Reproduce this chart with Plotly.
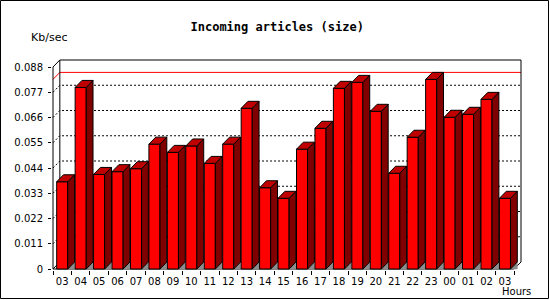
import plotly.graph_objects as go

# ---------------- data ----------------
hours = ["03", "04", "05", "06", "07", "08", "09", "10", "11", "12", "13", "14", "15",
         "16", "17", "18", "19", "20", "21", "22", "23", "00", "01", "02", "03"]
values = [0.0380, 0.0791, 0.0412, 0.0424, 0.0437, 0.0544, 0.0508, 0.0536, 0.0460, 0.0544,
          0.0700, 0.0354, 0.0308, 0.0522, 0.0613, 0.0787, 0.0813, 0.0687, 0.0417, 0.0574,
          0.0826, 0.0661, 0.0674, 0.0739, 0.0308]
ytick_vals = [0, 0.011, 0.022, 0.033, 0.044, 0.055, 0.066, 0.077, 0.088]
ytick_text = ["0", "0.011", "0.022", "0.033", "0.044", "0.055", "0.066", "0.077", "0.088"]
title = "Incoming articles (size)"
y_title = "Kb/sec"
x_title = "Hours"

# ---------------- geometry (3D look) ----------------
W, H = 550, 300
ML, MR, MT, MB = 52, 28, 59, 30
n = len(values)
ymax = ytick_vals[-1]
dx = 0.37            # depth offset in category units
px_per_unit_y = 202 / ymax
dy = 7 / px_per_unit_y
px_per_cat = (W - ML - MR) / (n + dx + 0.108)
padx = 1 / px_per_cat
pady = 1 / px_per_unit_y
bw = 0.6

xr = [-0.5 - padx, n - 0.5 + dx + padx]
yr = [-pady, ymax + dy + pady]

FRONT = "#ff0000"
TOP = "#c00000"
SIDE = "#800000"
SHADOW = "#8c8c8c"

fig = go.Figure()

# back-plane gridlines (dotted) with the short diagonal to the front axis
gx, gy = [], []
for v in ytick_vals[1:-1]:
    gx += [-0.5, -0.5 + dx, n - 0.5 + dx, None]
    gy += [v, v + dy, v + dy, None]
fig.add_trace(go.Scatter(x=gx, y=gy, mode="lines", hoverinfo="skip",
                         line=dict(color="black", width=1, dash="2px,2px")))

# max line (red)
vmax = max(values)
fig.add_trace(go.Scatter(x=[-0.5, -0.5 + dx, n - 0.5 + dx], y=[vmax, vmax + dy, vmax + dy],
                         mode="lines", hoverinfo="skip", line=dict(color="red", width=1)))

# frame: front y axis, back plane, floor
fx = [-0.5, -0.5, -0.5 + dx, n - 0.5 + dx, n - 0.5 + dx, n - 0.5, -0.5, None,
      -0.5 + dx, -0.5 + dx, None, -0.5, -0.5 + dx]
fy = [0, ymax, ymax + dy, ymax + dy, dy, 0, 0, None,
      ymax + dy, dy, None, 0, dy]
fig.add_trace(go.Scatter(x=fx, y=fy, mode="lines", hoverinfo="skip",
                         line=dict(color="black", width=1)))

# bars
for i, v in enumerate(values):
    l, r = i - bw / 2, i + bw / 2
    # floor shadow triangle
    fig.add_trace(go.Scatter(x=[r, r + dx, r + dx, r], y=[0, dy, 0, 0], mode="lines",
                             fill="toself", fillcolor=SHADOW, hoverinfo="skip",
                             line=dict(color=SHADOW, width=0.5)))
    # front face
    fig.add_trace(go.Scatter(x=[l, l, r, r, l], y=[0, v, v, 0, 0], mode="lines",
                             fill="toself", fillcolor=FRONT, name=hours[i],
                             hovertemplate=f"{hours[i]}: %{{customdata}}<extra></extra>",
                             customdata=[v] * 5,
                             line=dict(color="black", width=1)))
    # side face
    fig.add_trace(go.Scatter(x=[r, r, r + dx, r + dx, r], y=[0, v, v + dy, dy, 0], mode="lines",
                             fill="toself", fillcolor=SIDE, hoverinfo="skip",
                             line=dict(color="black", width=1)))
    # top face
    fig.add_trace(go.Scatter(x=[l, l + dx, r + dx, r, l], y=[v, v + dy, v + dy, v, v], mode="lines",
                             fill="toself", fillcolor=TOP, hoverinfo="skip",
                             line=dict(color="black", width=1)))

tickfont = dict(family="DejaVu Sans", size=10, color="black")

fig.update_layout(
    width=W, height=H,
    margin=dict(l=ML, r=MR, t=MT, b=MB),
    paper_bgcolor="white", plot_bgcolor="white",
    showlegend=False,
    title=dict(text=f"<b>{title}</b>", x=0.504, xanchor="center", y=1 - 27 / H, yanchor="middle",
               font=dict(family="DejaVu Sans Mono", size=12, color="black")),
    xaxis=dict(range=xr, showgrid=False, zeroline=False, showline=False,
               tickmode="array", tickvals=list(range(n)), ticktext=hours,
               ticks="", tickfont=tickfont, ticklabelstandoff=4,
               minor=dict(ticks="outside", ticklen=4, tickcolor="black", tickwidth=1,
                          tick0=-0.5, dtick=1, showgrid=False)),
    yaxis=dict(range=yr, showgrid=False, zeroline=False, showline=False,
               tickmode="array", tickvals=ytick_vals, ticktext=ytick_text,
               ticks="outside", ticklen=3, tickcolor="black", tickfont=tickfont,
               ticklabelstandoff=3),
    annotations=[
        dict(text=y_title, xref="paper", yref="paper", x=(29 - ML) / (W - ML - MR),
             y=(H - MB - 37) / (H - MT - MB), xanchor="left", yanchor="middle",
             showarrow=False, font=dict(family="DejaVu Sans", size=11, color="black")),
        dict(text=x_title, xref="paper", yref="paper", x=(533 - ML) / (W - ML - MR),
             y=(H - MB - 291) / (H - MT - MB), xanchor="right", yanchor="middle",
             showarrow=False, font=tickfont),
    ],
    shapes=[dict(type="rect", xref="paper", yref="paper",
                 x0=(0.5 - ML) / (W - ML - MR), x1=(548.5 - ML) / (W - ML - MR),
                 y0=(H - MB - 298.5) / (H - MT - MB), y1=(H - MB - 0.5) / (H - MT - MB),
                 line=dict(color="black", width=1), layer="above")],
)

fig.write_html("out.html")
